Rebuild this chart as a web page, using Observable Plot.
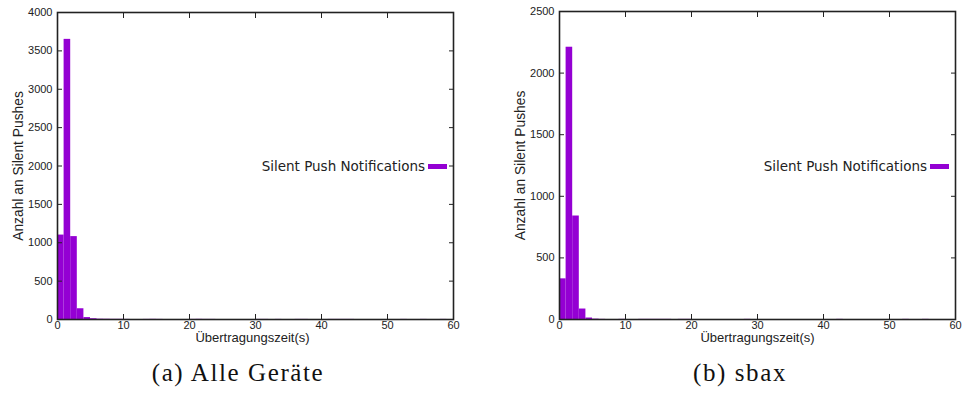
<!DOCTYPE html>
<html>
<head>
<meta charset="utf-8">
<script src="https://cdn.jsdelivr.net/npm/d3@7"></script>
<script src="https://cdn.jsdelivr.net/npm/@observablehq/plot@0.6"></script>
<style>
  body { margin: 0; background: #fff; }
  #fig { position: relative; width: 965px; height: 394px; background: #fff; overflow: hidden; }
  .panel { position: absolute; top: 0; }
  .legend { position: absolute; display: flex; align-items: center; font-family: "DejaVu Sans", sans-serif; font-size: 13.5px; color: #222; white-space: nowrap; height: 18px; }
  .swatch { display: inline-block; width: 19px; height: 5px; background: #9400D3; margin-left: 3px; }
  .caption { position: absolute; top: 360px; width: 300px; text-align: center; font-family: "Liberation Serif", serif; font-size: 25px; line-height: 25px; letter-spacing: 1.6px; color: #111; }
</style>
</head>
<body>
<div id="fig"></div>
<script>
// ---- data (bin start in seconds, bin width 1 s) ----
const binStartA = [0, 1, 2, 3, 4, 5, 6, 7, 8, 9, 10, 13, 14, 15, 20, 21, 22, 23, 30, 31, 33, 36, 37, 41, 42, 43, 44, 52, 55, 58];
const countA    = [1100, 3650, 1080, 140, 25, 10, 4, 3, 2, 2, 1, 1, 2, 1, 1, 2, 1, 1, 1, 1, 1, 1, 1, 1, 1, 1, 1, 1, 1, 1];

const binStartB = [0, 1, 2, 3, 4, 5, 6, 9, 12, 13, 14, 15, 16, 18, 19, 28, 42, 52, 55];
const countB    = [330, 2210, 840, 85, 12, 3, 1, 1, 1, 1, 1, 1, 1, 1, 1, 1, 1, 1, 1];

const xTicks  = [0, 10, 20, 30, 40, 50, 60];
const yTicksA = [0, 500, 1000, 1500, 2000, 2500, 3000, 3500, 4000];
const yTicksB = [0, 500, 1000, 1500, 2000, 2500];

const xLabel = "Übertragungszeit(s)";
const yLabel = "Anzahl an Silent Pushes";
const seriesName = "Silent Push Notifications";
const captions = ["(a) Alle Geräte", "(b) sbax"];
const barColor = "#9400D3";

function panel({bins, counts, yMax, yTicks, width, ml, mr, mt, labelDx}) {
  const data = bins.map((b, i) => ({x1: b, x2: b + 1, y: counts[i]}));
  return Plot.plot({
    width, height: 350,
    marginLeft: ml, marginRight: mr, marginTop: mt, marginBottom: 31,
    style: {fontFamily: "'Liberation Sans', Arial, sans-serif", fontSize: "11px", color: "#222", background: "transparent", overflow: "visible"},
    x: {domain: [0, 60], label: null},
    y: {domain: [0, yMax], label: null},
    marks: [
      Plot.rectY(data, {x1: "x1", x2: "x2", y: "y", fill: barColor, inset: 0}),
      // inward tick marks on all four sides
      Plot.axisX(xTicks, {anchor: "bottom", tickSize: 5, dy: -5, fill: "none", label: null}),
      Plot.axisX(xTicks, {anchor: "top", tickSize: 5, dy: 5, fill: "none", label: null}),
      Plot.axisY(yTicks, {anchor: "left", tickSize: 5, dx: 5, fill: "none", label: null}),
      Plot.axisY(yTicks, {anchor: "right", tickSize: 5, dx: -5, fill: "none", label: null}),
      // tick labels
      Plot.axisX(xTicks, {anchor: "bottom", tickSize: 0, tickPadding: 2, label: null, tickFormat: d3.format("d")}),
      Plot.axisY(yTicks, {anchor: "left", tickSize: 0, tickPadding: 5, label: null, tickFormat: d3.format("d")}),
      // axis titles
      Plot.text([xLabel], {text: d => d, frameAnchor: "bottom", textAnchor: "middle", lineAnchor: "middle", dy: 18, dx: labelDx, fontSize: 13}),
      Plot.text([yLabel], {text: d => d, frameAnchor: "left", textAnchor: "middle", lineAnchor: "middle", rotate: -90, dx: -39, fontSize: 13.8}),
      Plot.frame({stroke: "#222", strokeWidth: 1.6})
    ]
  });
}

const fig = document.getElementById("fig");
const specs = [
  {left: 0,   bins: binStartA, counts: countA, yMax: 4000, yTicks: yTicksA, width: 482, ml: 57, mr: 29, mt: 12, labelDx: -3, capCenter: 238},
  {left: 482, bins: binStartB, counts: countB, yMax: 2500, yTicks: yTicksB, width: 483, ml: 77, mr: 10, mt: 11, labelDx: 0, capCenter: 740}
];
specs.forEach((s, i) => {
  const div = document.createElement("div");
  div.className = "panel";
  div.style.left = s.left + "px";
  div.style.width = s.width + "px";
  div.style.height = "350px";
  div.appendChild(panel(s));
  const leg = document.createElement("div");
  leg.className = "legend";
  leg.style.right = (s.mr + 6) + "px";
  leg.style.top = (166 - 9) + "px";
  const t = document.createElement("span");
  t.textContent = seriesName;
  const sw = document.createElement("span");
  sw.className = "swatch";
  leg.appendChild(t); leg.appendChild(sw);
  div.appendChild(leg);
  fig.appendChild(div);

  const cap = document.createElement("div");
  cap.className = "caption";
  cap.style.left = (s.capCenter - 150) + "px";
  cap.textContent = captions[i];
  fig.appendChild(cap);
});
</script>
</body>
</html>
